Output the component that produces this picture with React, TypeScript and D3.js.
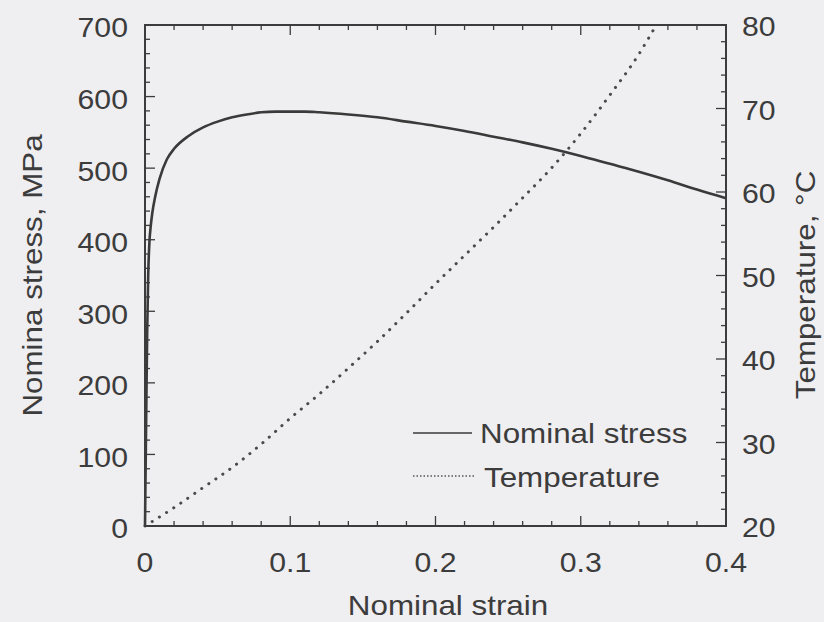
import React from "react";
import * as d3 from "d3";

const strainStress = [0, 0.0008, 0.0015, 0.0022, 0.003, 0.004, 0.005, 0.007, 0.01, 0.015, 0.02, 0.03, 0.04, 0.05, 0.06, 0.07, 0.08, 0.09, 0.1, 0.11, 0.12, 0.14, 0.16, 0.18, 0.2, 0.22, 0.24, 0.26, 0.28, 0.3, 0.32, 0.34, 0.36, 0.38, 0.4];
const stressValues = [0, 150, 270, 350, 395, 420, 437, 460, 485, 512, 527, 545, 557, 565, 571, 575, 578, 579, 579, 579, 578, 575, 571, 565, 559, 552, 544, 536, 527, 517, 506, 495, 483, 470, 458];

const strainTemp = [0, 0.02, 0.04, 0.06, 0.08, 0.1, 0.12, 0.14, 0.16, 0.18, 0.2, 0.22, 0.24, 0.26, 0.28, 0.3, 0.32, 0.34, 0.352];
const tempValues = [20, 22.2, 24.6, 27.0, 29.8, 32.9, 35.8, 38.9, 42.1, 45.5, 49.0, 52.4, 55.8, 59.3, 62.9, 67.0, 71.6, 76.5, 80];

const xTicks = [0, 0.1, 0.2, 0.3, 0.4];
const xTickLabels = ["0", "0.1", "0.2", "0.3", "0.4"];
const yTicks = [0, 100, 200, 300, 400, 500, 600, 700];
const tTicks = [20, 30, 40, 50, 60, 70, 80];

const xTitle = "Nominal strain";
const yTitle = "Nomina stress, MPa";
const tTitle = "Temperature, \u00B0C";
const legendLabels = ["Nominal stress", "Temperature"];

const SX = 1.12;

function Txt(props: { x: number; y: number; rot?: number; anchor?: string; baseline?: string; children: React.ReactNode }) {
  const { x, y, rot = 0, anchor = "start", baseline, children } = props;
  return (
    <text
      transform={`translate(${x},${y}) rotate(${rot}) scale(${SX},1)`}
      textAnchor={anchor}
      dominantBaseline={baseline}
    >
      {children}
    </text>
  );
}

export default function App() {
  const W = 824, H = 622;
  const L = 145, R = 726, T = 25, B = 526;
  const x = d3.scaleLinear().domain([0, 0.4]).range([L, R]);
  const y = d3.scaleLinear().domain([0, 700]).range([B, T]);
  const t = d3.scaleLinear().domain([20, 80]).range([B, T]);
  const ink = "#3c3c3c";
  const font = "'Liberation Sans', Arial, Helvetica, sans-serif";
  const tickFS = 27;
  const titleFS = 28;

  const stressLine = d3.line<number>()
    .x((_, i) => x(strainStress[i]))
    .y((d) => y(d))
    .curve(d3.curveMonotoneX);
  const tempLine = d3.line<number>()
    .x((_, i) => x(strainTemp[i]))
    .y((d) => t(d))
    .curve(d3.curveMonotoneX);

  const xMinor = d3.range(0, 0.4001, 0.02);
  const yMinor = d3.range(0, 700.1, 20);
  const tMinor = d3.range(20, 80.1, 2);
  const isMajor = (v: number, step: number) => Math.abs(v / step - Math.round(v / step)) < 1e-6;
  const MJ = 10, MN = 5;

  return (
    <svg width={W} height={H} style={{ position: "absolute", left: 0, top: 0, background: "#efeef0" }}>
      <rect x={0} y={0} width={W} height={H} fill="#efeef0" />
      <path d={stressLine(stressValues) || ""} fill="none" stroke="#3a3a3a" strokeWidth={2.6} />
      <path d={tempLine(tempValues) || ""} fill="none" stroke="#4a4a4a" strokeWidth={3} strokeDasharray="0.1 8.4" strokeLinecap="round" />
      <rect x={L} y={T} width={R - L} height={B - T} fill="none" stroke={ink} strokeWidth={2} />
      {xMinor.map((v, i) => {
        const len = isMajor(v, 0.1) ? MJ : MN;
        return (
          <g key={"x" + i} stroke={ink} strokeWidth={1.3}>
            <line x1={x(v)} x2={x(v)} y1={B} y2={B - len} />
            <line x1={x(v)} x2={x(v)} y1={T} y2={T + len} />
          </g>
        );
      })}
      {yMinor.map((v, i) => {
        const len = isMajor(v, 100) ? MJ : MN;
        return <line key={"y" + i} x1={L} x2={L + len} y1={y(v)} y2={y(v)} stroke={ink} strokeWidth={1.3} />;
      })}
      {tMinor.map((v, i) => {
        const len = isMajor(v, 10) ? MJ : MN;
        return <line key={"t" + i} x1={R} x2={R - len} y1={t(v)} y2={t(v)} stroke={ink} strokeWidth={1.3} />;
      })}
      <g fill={ink} fontFamily={font} fontSize={tickFS}>
        {xTicks.map((v, i) => (
          <Txt key={"xl" + i} x={x(v)} y={B + 37} anchor="middle" baseline="central">{xTickLabels[i]}</Txt>
        ))}
        {yTicks.map((v, i) => (
          <Txt key={"yl" + i} x={L - 17} y={y(v) + 3} anchor="end" baseline="central">{String(v)}</Txt>
        ))}
        {tTicks.map((v, i) => (
          <Txt key={"tl" + i} x={R + 16} y={t(v) + 2} anchor="start" baseline="central">{String(v)}</Txt>
        ))}
      </g>
      <g fill={ink} fontFamily={font} fontSize={titleFS}>
        <Txt x={448} y={615} anchor="middle">{xTitle}</Txt>
        <Txt x={42} y={(T + B) / 2} rot={-90} anchor="middle">{yTitle}</Txt>
        <Txt x={815} y={285} rot={-90} anchor="middle">{tTitle}</Txt>
      </g>
      <g fontFamily={font} fontSize={titleFS} fill={ink}>
        <line x1={413} x2={472} y1={433} y2={433} stroke="#3a3a3a" strokeWidth={1.5} />
        <Txt x={480} y={433} baseline="central">{legendLabels[0]}</Txt>
        <line x1={413} x2={474} y1={476} y2={476} stroke="#555" strokeWidth={1.3} strokeDasharray="1.5 2" />
        <Txt x={484} y={477} baseline="central">{legendLabels[1]}</Txt>
      </g>
    </svg>
  );
}
